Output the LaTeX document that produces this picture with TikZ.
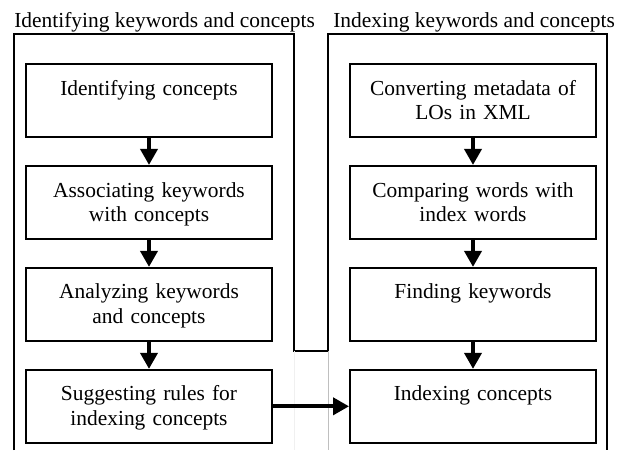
\documentclass[tikz,border=0pt]{standalone}
\usepackage{fontspec}
\setmainfont{Liberation Serif}
\usetikzlibrary{positioning,arrows.meta}
\tikzset{
  stepbox/.style={draw, line width=1pt, minimum width=137.8pt, minimum height=40.9pt, text width=130pt, align=center, text height=10pt, text depth=16pt, inner sep=0pt},
  flow/.style={line width=2.2pt, -{Triangle[length=9pt, width=9.5pt]}},
  frame/.style={line width=1.1pt},
  title/.style={anchor=base west, inner sep=0pt}
}
\begin{document}
\begin{tikzpicture}[x=0.56pt, y=-0.56pt, node distance=15.2pt, font=\fontsize{12}{13.5}\selectfont]
  \useasboundingbox (0,0) rectangle (626,450);
  % frames of the two stages
  \node[title] (ltitle) at (14,27) {Identifying keywords and concepts};
  \node[title] (rtitle) at (333,27) {Indexing keywords and concepts};
  \draw[frame] (14,450) |- (294,34) |- (328,351) |- (607,34) -- (607,450);
  \draw[gray!50] (328,351) -- (328,450);
  \draw[gray!12] (294,351) -- (294,450);
  % left column
  \node[stepbox, anchor=north] (l1) at (149,63) {Identifying concepts};
  \node[stepbox, below=of l1] (l2) {Associating keywords\\with concepts};
  \node[stepbox, below=of l2] (l3) {Analyzing keywords\\and concepts};
  \node[stepbox, below=of l3] (l4) {Suggesting rules for\\indexing concepts};
  % right column
  \node[stepbox, anchor=north] (r1) at (473,63) {Converting metadata of\\LOs in XML};
  \node[stepbox, below=of r1] (r2) {Comparing words with\\index words};
  \node[stepbox, below=of r2] (r3) {Finding keywords};
  \node[stepbox, below=of r3] (r4) {Indexing concepts};
  \draw[flow] (l1) -- (l2);
  \draw[flow] (l2) -- (l3);
  \draw[flow] (l3) -- (l4);
  \draw[flow] (r1) -- (r2);
  \draw[flow] (r2) -- (r3);
  \draw[flow] (r3) -- (r4);
  \draw[flow] (l4) -- (r4);
\end{tikzpicture}
\end{document}
